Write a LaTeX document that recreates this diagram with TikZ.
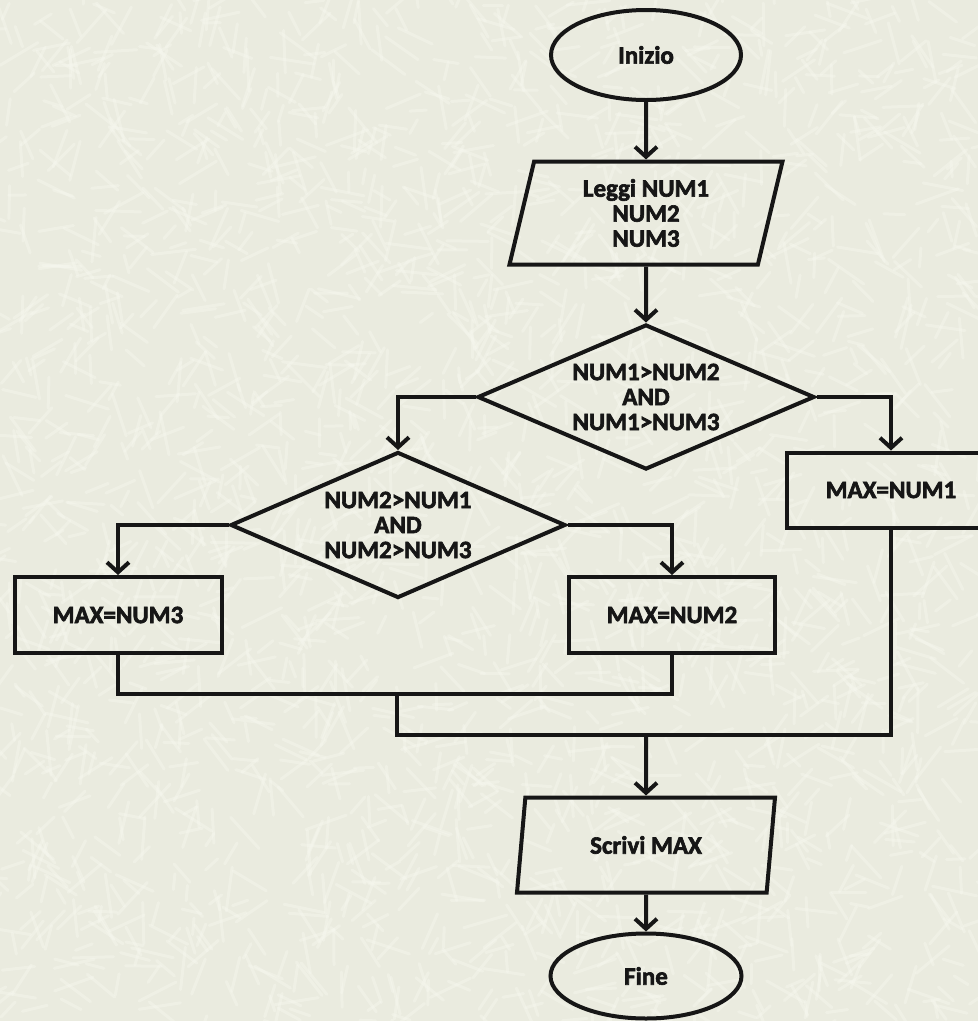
\documentclass[tikz,border=0pt]{standalone}
\usepackage{fontspec}
\setmainfont{Carlito}
\newfontfamily\labelfont{Carlito Bold}[FakeBold=2.5]
\usetikzlibrary{shapes.geometric,arrows.meta}

\definecolor{paper}{RGB}{234,235,223}
\definecolor{fibre}{RGB}{246,247,238}
\definecolor{ink}{RGB}{22,22,22}

\tikzset{
  base/.style={draw=ink, line width=4pt, text=ink, align=center, inner sep=4pt,
    font=\labelfont\fontsize{25}{25}\selectfont},
  terminal/.style={base, ellipse},
  io/.style={base, trapezium, trapezium left angle=72, trapezium right angle=108,
    trapezium stretches body},
  decision/.style={base, diamond, aspect=2.3, inner sep=0pt},
  process/.style={base, rectangle},
  link/.style={draw=ink, line width=4pt},
  flow/.style={link, -{Straight Barb[length=10pt,width=22pt]}},
}

\begin{document}
\begin{tikzpicture}[x=1pt,y=-1pt]
  \useasboundingbox (0,0) rectangle (978,1021);
  \clip (0,0) rectangle (978,1021);

  % paper background with soft light fibres
  \fill[paper] (0,0) rectangle (978,1021);
  \pgfmathsetseed{11}
  \foreach \i in {1,...,2400}{
    \pgfmathsetmacro{\px}{978*rnd}
    \pgfmathsetmacro{\py}{1021*rnd}
    \pgfmathsetmacro{\pa}{360*rnd}
    \pgfmathsetmacro{\pl}{15+30*rnd}
    \draw[fibre, line width=3pt, line cap=round, opacity=0.45] (\px,\py) -- ++(\pa:\pl);
  }

  % blocks
  \node[terminal, minimum width=190pt, minimum height=90pt] (start) at (646,55) {Inizio};
  \node[io, minimum width=273pt, minimum height=103pt] (read) at (646,213) {Leggi NUM1\\NUM2\\NUM3};
  \node[decision, minimum width=337pt, minimum height=145pt] (d1) at (646,397) {NUM1>NUM2\\AND\\NUM1>NUM3};
  \node[decision, minimum width=335pt, minimum height=146pt] (d2) at (398,525) {NUM2>NUM1\\AND\\NUM2>NUM3};
  \node[process, minimum width=208pt, minimum height=75pt] (n1) at (891,490) {MAX=NUM1};
  \node[process, minimum width=207pt, minimum height=76pt] (n3) at (118,615) {MAX=NUM3};
  \node[process, minimum width=206pt, minimum height=76pt] (n2) at (672,615) {MAX=NUM2};
  \node[io, minimum width=258pt, minimum height=95pt] (out) at (646,845) {Scrivi MAX};
  \node[terminal, minimum width=191pt, minimum height=85pt] (end) at (646,976) {Fine};

  % junction points
  \coordinate (jl) at (397,694);
  \coordinate (jm) at (646,735);

  % connectors
  \draw[flow] (start.south) -- (read.north);
  \draw[flow] (read.south) -- (d1.north);
  \draw[flow] (d1.west) -| (d2.north);
  \draw[flow] (d1.east) -| (n1.north);
  \draw[flow] (d2.west) -| (n3.north);
  \draw[flow] (d2.east) -| (n2.north);
  \draw[link] (n3.south) |- (jl) -| (n2.south);
  \draw[link] (jl) |- (jm) -| (n1.south);
  \draw[flow] (jm) -- (out.north);
  \draw[flow] (out.south) -- (end.north);
\end{tikzpicture}
\end{document}
